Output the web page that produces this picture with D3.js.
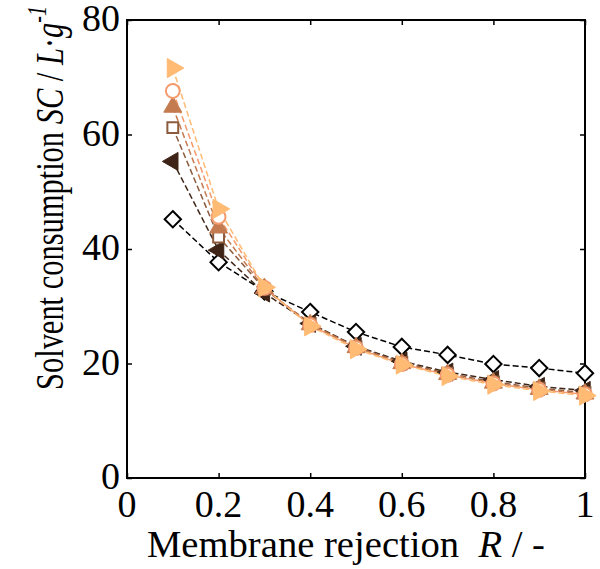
<!DOCTYPE html>
<html>
<head>
<meta charset="utf-8">
<script src="https://cdn.jsdelivr.net/npm/d3@7"></script>
<style>
  body { margin: 0; background: #fff; }
  text { font-family: "Liberation Serif", "Times New Roman", serif; }
</style>
</head>
<body>
<svg id="svg" width="600" height="569"></svg>
<script>
// membrane rejection R
const rejection = [0.1, 0.2, 0.3, 0.4, 0.5, 0.6, 0.7, 0.8, 0.9, 1.0];

// solvent consumption SC, one list per series
const scDiamond = [45.2, 37.7, 32.6, 29.0, 25.5, 22.9, 21.5, 19.9, 19.2, 18.3];
const scLeftTri = [55.3, 39.8, 32.3, 27.0, 23.0, 20.4, 18.5, 17.2, 16.0, 15.3];
const scSquare = [61.2, 42.1, 33.0, 27.0, 22.9, 20.2, 18.3, 16.8, 15.7, 14.9];
const scUpTri = [64.8, 43.7, 33.1, 26.8, 22.8, 20.0, 18.1, 16.6, 15.5, 14.7];
const scCircle = [67.6, 45.6, 33.2, 26.7, 22.7, 19.9, 18.0, 16.5, 15.4, 14.6];
const scRightTri = [71.6, 47.0, 33.3, 26.5, 22.5, 19.8, 17.8, 16.3, 15.2, 14.4];

const xTicks = [0, 0.2, 0.4, 0.6, 0.8, 1];
const yTicks = [0, 20, 40, 60, 80];

const series = [
    { values: scDiamond, shape: 'diamond', color: '#000000', open: true },
    { values: scLeftTri, shape: 'left', color: '#3d2416', open: false },
    { values: scSquare, shape: 'square', color: '#8c5a3c', open: true },
    { values: scUpTri, shape: 'up', color: '#c47b4f', open: false },
    { values: scCircle, shape: 'circle', color: '#f49a6c', open: true },
    { values: scRightTri, shape: 'right', color: '#ffbb74', open: false }
];

const svg = d3.select('#svg');
const mLeft = 127, mRight = 585, mTop = 20, mBottom = 478;

const x = d3.scaleLinear().domain([0, 1]).range([mLeft, mRight]);
const y = d3.scaleLinear().domain([0, 80]).range([mBottom, mTop]);

// frame
svg.append('rect')
    .attr('x', mLeft).attr('y', mTop)
    .attr('width', mRight - mLeft).attr('height', mBottom - mTop)
    .attr('fill', 'none').attr('stroke', 'black').attr('stroke-width', 2);

// inward ticks on all four sides
const tickLen = 5;
svg.append('g').attr('transform', `translate(0,${mBottom})`)
    .call(d3.axisTop(x).tickValues(xTicks).tickSize(tickLen).tickFormat(''))
    .call(g => g.select('.domain').remove());
svg.append('g').attr('transform', `translate(0,${mTop})`)
    .call(d3.axisBottom(x).tickValues(xTicks).tickSize(tickLen).tickFormat(''))
    .call(g => g.select('.domain').remove());
svg.append('g').attr('transform', `translate(${mLeft},0)`)
    .call(d3.axisRight(y).tickValues(yTicks).tickSize(tickLen).tickFormat(''))
    .call(g => g.select('.domain').remove());
svg.append('g').attr('transform', `translate(${mRight},0)`)
    .call(d3.axisLeft(y).tickValues(yTicks).tickSize(tickLen).tickFormat(''))
    .call(g => g.select('.domain').remove());
svg.selectAll('.tick line').attr('stroke', 'black').attr('stroke-width', 1.5);

// tick labels
svg.selectAll('.xlab')
    .data(xTicks)
    .join('text')
    .attr('x', d => x(d))
    .attr('y', 517)
    .attr('text-anchor', 'middle')
    .attr('font-size', 38)
    .text(d => d);

svg.selectAll('.ylab')
    .data(yTicks)
    .join('text')
    .attr('x', 120)
    .attr('y', d => y(d) + 11)
    .attr('text-anchor', 'end')
    .attr('font-size', 38)
    .text(d => d);

// axis titles
const xt = svg.append('text')
    .attr('x', 346).attr('y', 557)
    .attr('text-anchor', 'middle')
    .attr('font-size', 37)
    .attr('textLength', 398)
    .attr('lengthAdjust', 'spacingAndGlyphs');
xt.append('tspan').text('Membrane rejection\u00a0 ');
xt.append('tspan').attr('font-style', 'italic').text('R');
xt.append('tspan').text(' / -');

const yt = svg.append('text')
    .attr('transform', 'translate(63,198) rotate(-90)')
    .attr('text-anchor', 'middle')
    .attr('font-size', 41)
    .attr('textLength', 384)
    .attr('lengthAdjust', 'spacingAndGlyphs');
yt.append('tspan').text('Solvent consumption ');
yt.append('tspan').attr('font-style', 'italic').text('SC');
yt.append('tspan').text(' / ');
yt.append('tspan').attr('font-style', 'italic').text('L');
yt.append('tspan').text('\u00b7');
yt.append('tspan').attr('font-style', 'italic').text('g');
yt.append('tspan').attr('font-style', 'italic').attr('font-size', 27).attr('dy', -17).text('-1');

// lines
const line = d3.line().x((d, i) => x(rejection[i])).y(d => y(d));
svg.append('g').selectAll('path')
    .data(series)
    .join('path')
    .attr('d', s => line(s.values))
    .attr('fill', 'none')
    .attr('stroke', s => s.color)
    .attr('stroke-width', 1.5)
    .attr('stroke-dasharray', '6,3');

// markers
const sym = {
    diamond: d3.symbol().type(d3.symbolDiamond2).size(170),
    square: d3.symbol().type(d3.symbolSquare2).size(150),
    circle: d3.symbol().type(d3.symbolCircle).size(150),
    up: d3.symbol().type(d3.symbolTriangle).size(140),
    left: d3.symbol().type(d3.symbolTriangle).size(140),
    right: d3.symbol().type(d3.symbolTriangle).size(160)
};
const rot = { up: 0, left: -90, right: 90, diamond: 0, square: 0, circle: 0 };

series.forEach(s => {
    svg.append('g').selectAll('path')
        .data(s.values)
        .join('path')
        .attr('d', sym[s.shape])
        .attr('transform', (d, i) => `translate(${x(rejection[i])},${y(d)}) rotate(${rot[s.shape]})`)
        .attr('fill', s.open ? 'white' : s.color)
        .attr('stroke', s.color)
        .attr('stroke-width', s.open ? 2 : 1);
});
</script>
</body>
</html>
